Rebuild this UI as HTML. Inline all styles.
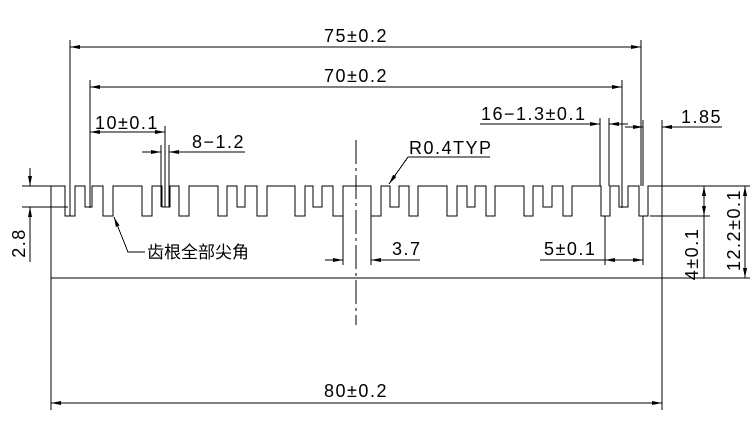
<!DOCTYPE html>
<html><head><meta charset="utf-8"><style>
html,body{margin:0;padding:0;background:#fff;}
svg{display:block;}
text{font-family:"Liberation Sans","Noto Sans CJK SC",sans-serif;font-size:18px;letter-spacing:1.5px;fill:#000;}
</style></head><body>
<svg width="756" height="437" viewBox="0 0 756 437" xmlns="http://www.w3.org/2000/svg">
<defs>
<marker id="a" viewBox="0 0 10 4" refX="10" refY="2" markerWidth="10" markerHeight="4" orient="auto-start-reverse" markerUnits="userSpaceOnUse"><path d="M0,0L10,2L0,4z" fill="#000"/></marker>
</defs>
<g stroke="#000" stroke-width="1" fill="none" shape-rendering="crispEdges">
<path d="M51,278 V186 H65 V216 H75 V186 H85 V207 H92 V186 H103 V216 H113 V186 H142 V216 H152 V186 H162 V207 H170 V186 H179 V216 H189 V186 H218 V216 H227 V186 H237 V207 H245 V186 H257 V216 H267 V186 H295 V216 H305 V186 H313 V207 H322 V186 H333 V216 H343 V186 H371 V216 H381 V186 H390 V207 H399 V186 H409 V216 H418 V186 H447 V216 H457 V186 H467 V207 H475 V186 H486 V216 H495 V186 H524 V216 H533 V186 H543 V207 H552 V186 H563 V216 H572 V186 H601 V216 H610 V186 H619 V207 H628 V186 H639 V216 H648 V186 H662 V278 Z"/>
<line x1="70" y1="40" x2="70" y2="216"/><line x1="641" y1="40" x2="641" y2="186"/>
<line x1="70" y1="47" x2="641" y2="47" marker-start="url(#a)" marker-end="url(#a)"/>
<line x1="90" y1="80" x2="90" y2="208"/><line x1="622" y1="80" x2="622" y2="208"/>
<line x1="90" y1="87" x2="622" y2="87" marker-start="url(#a)" marker-end="url(#a)"/>
<line x1="165" y1="126" x2="165" y2="207"/><line x1="161" y1="145" x2="161" y2="207"/><line x1="169" y1="145" x2="169" y2="207"/>
<line x1="90" y1="132" x2="165" y2="132" marker-start="url(#a)" marker-end="url(#a)"/>
<line x1="142" y1="152" x2="161" y2="152" marker-end="url(#a)"/>
<line x1="245" y1="152" x2="169" y2="152" marker-end="url(#a)"/>
<line x1="600" y1="118" x2="600" y2="186"/><line x1="609" y1="118" x2="609" y2="186"/>
<line x1="480" y1="124" x2="600" y2="124" marker-end="url(#a)"/>
<line x1="628" y1="124" x2="609" y2="124" marker-end="url(#a)"/>
<line x1="643" y1="120" x2="643" y2="186"/><line x1="662" y1="120" x2="662" y2="186"/>
<line x1="625" y1="127" x2="643" y2="127" marker-end="url(#a)"/>
<line x1="722" y1="127" x2="662" y2="127" marker-end="url(#a)"/>
<line x1="408" y1="157" x2="490" y2="157"/>
<line x1="408" y1="157" x2="389" y2="184" marker-end="url(#a)"/>
<line x1="356" y1="140" x2="356" y2="325" stroke-dasharray="24,4,3,4"/>
<line x1="343" y1="216" x2="343" y2="265"/><line x1="371" y1="216" x2="371" y2="265"/>
<line x1="325" y1="260" x2="343" y2="260" marker-end="url(#a)"/>
<line x1="420" y1="260" x2="371" y2="260" marker-end="url(#a)"/>
<line x1="605" y1="216" x2="605" y2="265"/><line x1="643" y1="216" x2="643" y2="265"/>
<line x1="540" y1="260" x2="643" y2="260"/>
<line x1="625" y1="260" x2="605" y2="260" marker-end="url(#a)"/>
<line x1="620" y1="260" x2="643" y2="260" marker-end="url(#a)"/>
<line x1="662" y1="186" x2="750" y2="186"/><line x1="650" y1="216" x2="710" y2="216"/><line x1="662" y1="278" x2="750" y2="278"/>
<line x1="704" y1="186" x2="704" y2="216" marker-start="url(#a)" marker-end="url(#a)"/>
<line x1="704" y1="216" x2="704" y2="278"/>
<line x1="745" y1="186" x2="745" y2="278" marker-start="url(#a)" marker-end="url(#a)"/>
<line x1="22" y1="186" x2="51" y2="186"/><line x1="22" y1="207" x2="68" y2="207"/>
<line x1="30" y1="168" x2="30" y2="186" marker-end="url(#a)"/>
<line x1="30" y1="262" x2="30" y2="207" marker-end="url(#a)"/>
<line x1="51" y1="278" x2="51" y2="410"/><line x1="662" y1="278" x2="662" y2="410"/>
<line x1="51" y1="403" x2="662" y2="403" marker-start="url(#a)" marker-end="url(#a)"/>
<polyline points="145,252 128,252 116,222"/>
<line x1="128" y1="252" x2="114" y2="217" marker-end="url(#a)"/>
</g>
<text x="356" y="42" text-anchor="middle">75±0.2</text>
<text x="356" y="82" text-anchor="middle">70±0.2</text>
<text x="95" y="129">10±0.1</text>
<text x="192" y="148">8−1.2</text>
<text x="481" y="120">16−1.3±0.1</text>
<text x="681" y="123">1.85</text>
<text x="409" y="154">R0.4TYP</text>
<text x="392" y="255">3.7</text>
<text x="544" y="255">5±0.1</text>
<text x="356" y="397" text-anchor="middle">80±0.2</text>
<text x="147" y="258" style="font-size:17px;letter-spacing:0">齿根全部尖角</text>
<text transform="translate(25,243) rotate(-90)" text-anchor="middle">2.8</text>
<text transform="translate(698,254) rotate(-90)" text-anchor="middle">4±0.1</text>
<text transform="translate(740,230) rotate(-90)" text-anchor="middle">12.2±0.1</text>
</svg>
</body></html>
